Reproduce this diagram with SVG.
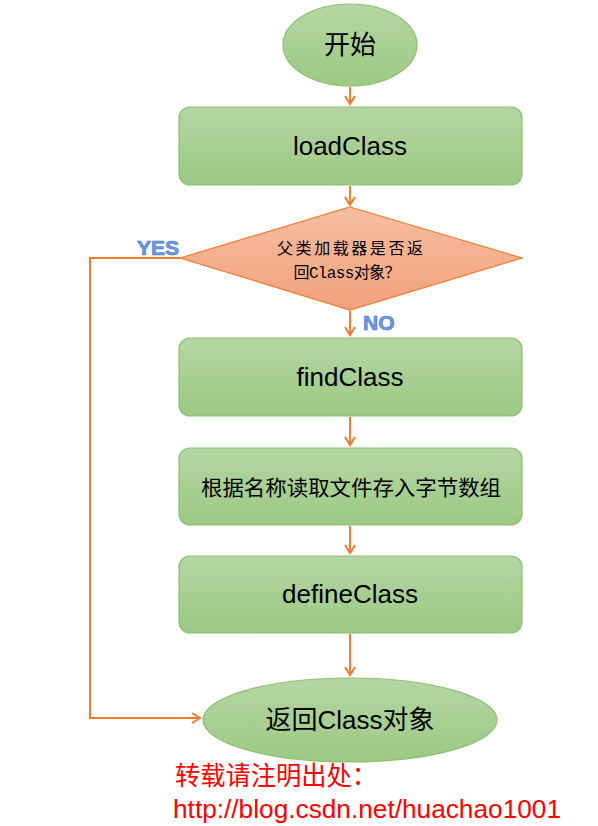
<svg xmlns="http://www.w3.org/2000/svg" width="598" height="826" viewBox="0 0 598 826">
<defs>
<linearGradient id="g" x1="0" y1="0" x2="0" y2="1"><stop offset="0" stop-color="#b5d6a4"/><stop offset="1" stop-color="#9cc983"/></linearGradient>
<linearGradient id="o" x1="0" y1="0" x2="0" y2="1"><stop offset="0" stop-color="#f6bea3"/><stop offset="1" stop-color="#f3a17c"/></linearGradient>
<marker id="a" markerWidth="12" markerHeight="12" refX="10" refY="6" orient="auto" markerUnits="userSpaceOnUse"><path d="M2,1 L10,6 L2,11" fill="none" stroke="#ed7d31" stroke-width="2"/></marker>
<style>
.n{fill:url(#g);stroke:#8dbf70;stroke-width:1.2}
.t{font-family:"Liberation Sans","Noto Sans CJK SC",sans-serif;font-size:26px;fill:#000;text-anchor:middle}
.c{fill:none;stroke:#ed7d31;stroke-width:2;marker-end:url(#a)}
.lbl{font-family:"Liberation Sans",sans-serif;font-weight:bold;font-size:21px;fill:#6f9ce0;stroke:#3d6fc2;stroke-width:0.6}
.r{font-family:"Liberation Sans","Noto Sans CJK SC",sans-serif;font-size:26px;fill:#ff0000}
.d{font-family:"Liberation Mono","Noto Sans CJK SC",monospace;font-size:16px;fill:#000;text-anchor:middle}
</style>
</defs>
<rect width="598" height="826" fill="#fff"/>
<g id="start"><ellipse class="n" cx="350" cy="45" rx="67" ry="41"/><text class="t" x="350" y="54">开始</text></g>
<g id="loadClass"><rect class="n" x="179" y="107" width="343" height="78" rx="11"/><text class="t" x="350" y="155">loadClass</text></g>
<g id="decision"><polygon points="350,207 522,258 350,310 180,258" fill="url(#o)" stroke="#ed7d31" stroke-width="1.2"/><text class="d" x="350" y="254" textLength="146" lengthAdjust="spacing">父类加载器是否返</text><text class="d" x="347" y="278" textLength="107" lengthAdjust="spacing">回Class对象？</text></g>
<g id="findClass"><rect class="n" x="179" y="338" width="343" height="78" rx="11"/><text class="t" x="350" y="386">findClass</text></g>
<g id="read"><rect class="n" x="179" y="448" width="343" height="77" rx="11"/><text class="t" x="351" y="495" style="font-size:21px" textLength="300" lengthAdjust="spacingAndGlyphs">根据名称读取文件存入字节数组</text></g>
<g id="defineClass"><rect class="n" x="179" y="556" width="343" height="77" rx="11"/><text class="t" x="350" y="603">defineClass</text></g>
<g id="end"><ellipse class="n" cx="350" cy="720" rx="147" ry="42"/><text class="t" x="350" y="729">返回Class对象</text></g>
<g id="connectors">
<line class="c" x1="350" y1="87" x2="350" y2="104"/>
<line class="c" x1="350" y1="186" x2="350" y2="205"/>
<line class="c" x1="350" y1="311" x2="350" y2="335"/>
<line class="c" x1="350" y1="417" x2="350" y2="445"/>
<line class="c" x1="350" y1="526" x2="350" y2="553"/>
<line class="c" x1="350" y1="634" x2="350" y2="675"/>
<polyline class="c" points="180,258 90,258 90,718 200,718"/>
<text class="lbl" x="137" y="255">YES</text>
<text class="lbl" x="363" y="330">NO</text>
</g>
<text class="r" x="175" y="785" textLength="202" lengthAdjust="spacingAndGlyphs">转载请注明出处：</text>
<text class="r" x="173" y="818" textLength="388" lengthAdjust="spacingAndGlyphs">http://blog.csdn.net/huachao1001</text>
</svg>
